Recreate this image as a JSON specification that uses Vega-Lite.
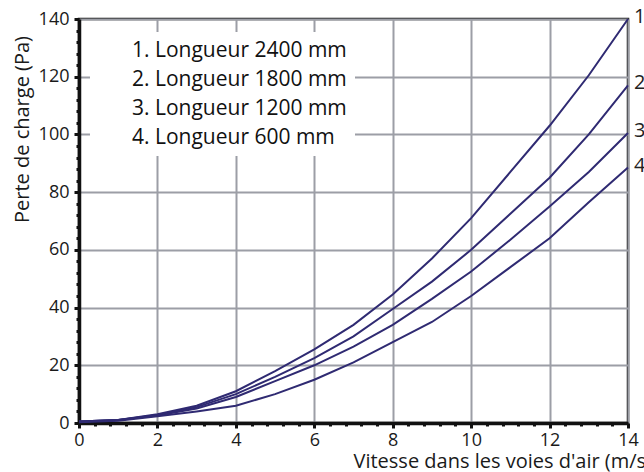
{
  "$schema": "https://vega.github.io/schema/vega-lite/v6.json",
  "width": 549,
  "height": 404,
  "autosize": {"type": "none"},
  "padding": {"left": 79, "top": 19, "right": 16, "bottom": 49},
  "background": "white",
  "config": {
    "font": "Open Sans",
    "view": {"stroke": "#111", "strokeWidth": 2.5},
    "axis": {"labelFont": "Open Sans", "titleFont": "Open Sans", "labelColor": "#1a1a1a", "titleColor": "#1a1a1a", "titleFontWeight": "normal"}
  },
  "resolve": {"axis": {"x": "independent", "y": "independent"}},
  "datasets": {
    "curves": [
      {"v": 0, "p": 0.5, "s": "1. Longueur 2400 mm"},
      {"v": 1, "p": 1, "s": "1. Longueur 2400 mm"},
      {"v": 2, "p": 3, "s": "1. Longueur 2400 mm"},
      {"v": 3, "p": 6, "s": "1. Longueur 2400 mm"},
      {"v": 4, "p": 11, "s": "1. Longueur 2400 mm"},
      {"v": 5, "p": 18, "s": "1. Longueur 2400 mm"},
      {"v": 6, "p": 25.5, "s": "1. Longueur 2400 mm"},
      {"v": 7, "p": 34, "s": "1. Longueur 2400 mm"},
      {"v": 8, "p": 44.5, "s": "1. Longueur 2400 mm"},
      {"v": 9, "p": 57, "s": "1. Longueur 2400 mm"},
      {"v": 10, "p": 71, "s": "1. Longueur 2400 mm"},
      {"v": 11, "p": 87, "s": "1. Longueur 2400 mm"},
      {"v": 12, "p": 103, "s": "1. Longueur 2400 mm"},
      {"v": 13, "p": 120.5, "s": "1. Longueur 2400 mm"},
      {"v": 14, "p": 140, "s": "1. Longueur 2400 mm"},
      {"v": 0, "p": 0.5, "s": "2. Longueur 1800 mm"},
      {"v": 1, "p": 1, "s": "2. Longueur 1800 mm"},
      {"v": 2, "p": 2.8, "s": "2. Longueur 1800 mm"},
      {"v": 3, "p": 5.5, "s": "2. Longueur 1800 mm"},
      {"v": 4, "p": 10, "s": "2. Longueur 1800 mm"},
      {"v": 5, "p": 16, "s": "2. Longueur 1800 mm"},
      {"v": 6, "p": 22.5, "s": "2. Longueur 1800 mm"},
      {"v": 7, "p": 30, "s": "2. Longueur 1800 mm"},
      {"v": 8, "p": 39.5, "s": "2. Longueur 1800 mm"},
      {"v": 9, "p": 49, "s": "2. Longueur 1800 mm"},
      {"v": 10, "p": 60, "s": "2. Longueur 1800 mm"},
      {"v": 11, "p": 72.5, "s": "2. Longueur 1800 mm"},
      {"v": 12, "p": 85, "s": "2. Longueur 1800 mm"},
      {"v": 13, "p": 100, "s": "2. Longueur 1800 mm"},
      {"v": 14, "p": 117, "s": "2. Longueur 1800 mm"},
      {"v": 0, "p": 0.5, "s": "3. Longueur 1200 mm"},
      {"v": 1, "p": 1, "s": "3. Longueur 1200 mm"},
      {"v": 2, "p": 2.6, "s": "3. Longueur 1200 mm"},
      {"v": 3, "p": 5, "s": "3. Longueur 1200 mm"},
      {"v": 4, "p": 9, "s": "3. Longueur 1200 mm"},
      {"v": 5, "p": 14.5, "s": "3. Longueur 1200 mm"},
      {"v": 6, "p": 20, "s": "3. Longueur 1200 mm"},
      {"v": 7, "p": 26.5, "s": "3. Longueur 1200 mm"},
      {"v": 8, "p": 34, "s": "3. Longueur 1200 mm"},
      {"v": 9, "p": 43, "s": "3. Longueur 1200 mm"},
      {"v": 10, "p": 52.5, "s": "3. Longueur 1200 mm"},
      {"v": 11, "p": 63.5, "s": "3. Longueur 1200 mm"},
      {"v": 12, "p": 75, "s": "3. Longueur 1200 mm"},
      {"v": 13, "p": 87, "s": "3. Longueur 1200 mm"},
      {"v": 14, "p": 100.5, "s": "3. Longueur 1200 mm"},
      {"v": 0, "p": 0.3, "s": "4. Longueur 600 mm"},
      {"v": 1, "p": 0.8, "s": "4. Longueur 600 mm"},
      {"v": 2, "p": 2.3, "s": "4. Longueur 600 mm"},
      {"v": 3, "p": 4, "s": "4. Longueur 600 mm"},
      {"v": 4, "p": 6, "s": "4. Longueur 600 mm"},
      {"v": 5, "p": 10, "s": "4. Longueur 600 mm"},
      {"v": 6, "p": 15, "s": "4. Longueur 600 mm"},
      {"v": 7, "p": 21, "s": "4. Longueur 600 mm"},
      {"v": 8, "p": 28, "s": "4. Longueur 600 mm"},
      {"v": 9, "p": 35, "s": "4. Longueur 600 mm"},
      {"v": 10, "p": 44, "s": "4. Longueur 600 mm"},
      {"v": 11, "p": 54, "s": "4. Longueur 600 mm"},
      {"v": 12, "p": 64, "s": "4. Longueur 600 mm"},
      {"v": 13, "p": 76.5, "s": "4. Longueur 600 mm"},
      {"v": 14, "p": 88.5, "s": "4. Longueur 600 mm"}
    ],
    "ends": [
      {"v": 14, "p": 140, "t": "1"},
      {"v": 14, "p": 117, "t": "2"},
      {"v": 14, "p": 100.5, "t": "3"},
      {"v": 14, "p": 88.5, "t": "4"}
    ]
  },
  "layer": [
    {
      "data": {"name": "curves"},
      "mark": {"type": "line", "strokeWidth": 2, "clip": false},
      "encoding": {
        "x": {
          "field": "v", "type": "quantitative",
          "scale": {"domain": [0, 14], "nice": false, "zero": false},
          "axis": {
            "orient": "bottom",
            "values": [0, 2, 4, 6, 8, 10, 12, 14],
            "labelFontSize": 18,
            "labelPadding": 3,
            "labelFlush": false,
            "domainColor": "#111", "domainWidth": 3.5,
            "tickColor": "#111", "tickWidth": 3, "tickSize": 5,
            "grid": true, "gridColor": "#9c9ea6", "gridWidth": 2,
            "title": "Vitesse dans les voies d'air (m/s)",
            "titleFontSize": 20,
            "titleAnchor": "start",
            "titleAlign": "left",
            "titleX": 274,
            "titleY": 44,
            "titleBaseline": "alphabetic"
          }
        },
        "y": {
          "field": "p", "type": "quantitative",
          "scale": {"domain": [0, 140], "nice": false},
          "axis": {
            "orient": "left",
            "values": [0, 20, 40, 60, 80, 100, 120, 140],
            "labelFontSize": 18,
            "labelPadding": 5,
            "labelFlush": false,
            "domainColor": "#111", "domainWidth": 3.5,
            "tickColor": "#111", "tickWidth": 3, "tickSize": 5,
            "grid": true, "gridColor": "#9c9ea6", "gridWidth": 2,
            "title": "Perte de charge (Pa)",
            "titleFontSize": 20,
            "titleX": -57,
            "titleY": 110,
            "titleAlign": "center",
            "titleBaseline": "middle",
            "titleAngle": -90
          }
        },
        "color": {
          "field": "s", "type": "nominal",
          "scale": {"range": ["#2f2a72", "#2f2a72", "#2f2a72", "#2f2a72"]},
          "legend": {
            "orient": "none",
            "legendX": 11,
            "legendY": 13,
            "title": null,
            "fillColor": "white",
            "padding": 8,
            "symbolType": "circle",
            "symbolSize": 0,
            "symbolOpacity": 0,
            "symbolStrokeWidth": 0,
            "labelOffset": 13,
            "labelFont": "Open Sans",
            "labelFontSize": 21,
            "labelColor": "#111",
            "labelLimit": 400,
            "rowPadding": 7
          }
        }
      }
    },
    {
      "data": {"name": "ends"},
      "mark": {"type": "text", "align": "left", "baseline": "middle", "dx": 6, "dy": -2, "fontSize": 20, "font": "Open Sans", "color": "#222"},
      "encoding": {
        "x": {
          "field": "v", "type": "quantitative",
          "axis": {
            "orient": "bottom",
            "values": [0.4,0.8,1.2,1.6,2.4,2.8,3.2,3.6,4.4,4.8,5.2,5.6,6.4,6.8,7.2,7.6,8.4,8.8,9.2,9.6,10.4,10.8,11.2,11.6,12.4,12.8,13.2,13.6],
            "labels": false, "domain": false, "grid": false, "title": null,
            "tickColor": "#111", "tickWidth": 3, "tickSize": 3
          }
        },
        "y": {
          "field": "p", "type": "quantitative",
          "axis": {
            "orient": "left",
            "values": [4,8,12,16,24,28,32,36,44,48,52,56,64,68,72,76,84,88,92,96,104,108,112,116,124,128,132,136],
            "labels": false, "domain": false, "grid": false, "title": null,
            "tickColor": "#111", "tickWidth": 3, "tickSize": 3
          }
        },
        "text": {"field": "t"}
      }
    }
  ]
}
